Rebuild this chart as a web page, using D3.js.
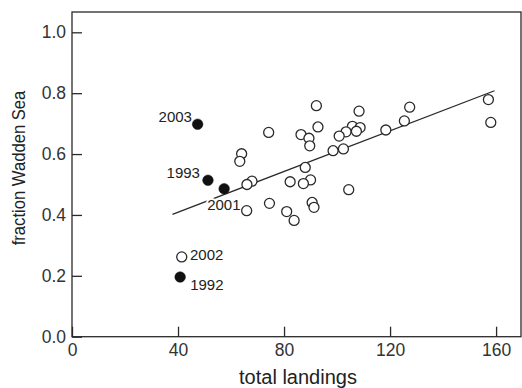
<!DOCTYPE html>
<html><head><meta charset="utf-8">
<script src="https://cdn.jsdelivr.net/npm/d3@7"></script>
<style>
html,body{margin:0;padding:0;background:#fff;}
svg{display:block;}
text{font-family:"Liberation Sans",Arial,Helvetica,sans-serif;}
</style></head>
<body>
<svg id="chart" width="522" height="388"></svg>
<script>
// Data
const xTicks = [0, 40, 80, 120, 160];
const yTicks = [0.0, 0.2, 0.4, 0.6, 0.8, 1.0];
const openX = [92.2, 92.8, 74.2, 86.4, 89.4, 89.7, 98.5, 64.0, 63.3, 88.0, 67.9, 66.0, 82.3, 90.0, 87.3, 65.9, 74.5, 81.0, 83.8, 90.6, 91.3, 108.3, 105.8, 108.7, 103.4, 107.3, 100.8, 102.4, 118.4, 125.4, 127.4, 157.1, 158.0, 104.4, 41.4];
const openY = [0.759, 0.689, 0.671, 0.664, 0.652, 0.627, 0.611, 0.601, 0.576, 0.556, 0.511, 0.500, 0.509, 0.515, 0.503, 0.414, 0.438, 0.411, 0.382, 0.441, 0.425, 0.741, 0.691, 0.687, 0.673, 0.675, 0.659, 0.617, 0.679, 0.709, 0.754, 0.779, 0.704, 0.483, 0.262];
const filledX = [40.8, 51.3, 57.4, 47.4];
const filledY = [0.196, 0.514, 0.486, 0.698];
const fitX = [37.9, 159.4];
const fitY = [0.402, 0.808];
const labelYears = ["1992", "1993", "2001", "2003", "2002"];
const labelX = [40.8, 51.3, 57.4, 47.4, 41.4];
const labelY = [0.196, 0.514, 0.486, 0.698, 0.262];
// label placement (pixels relative to point)
const labelDx = [10, -8, -17, -5.7, 8.3];
const labelDy = [13, -2.3, 21, -2.6, 3];
const labelAnchor = ["start", "end", "start", "end", "start"];

const svg = d3.select("#chart");
const L = 72, T = 12, R = 521, B = 336.7;
const x = d3.scaleLinear().domain([0, 169.4]).range([L, R]);
const y = d3.scaleLinear().domain([0, 1.0667]).range([B, T]);
const ink = "#2a2a2a";

// frame
svg.append("rect").attr("x", L).attr("y", T).attr("width", R - L).attr("height", B - T)
  .attr("fill", "none").attr("stroke", ink).attr("stroke-width", 1.3);

const xAxis = svg.append("g").attr("transform", `translate(0,${B})`)
  .call(d3.axisBottom(x).tickValues(xTicks).tickFormat(d3.format("d")).tickSizeInner(-10).tickSizeOuter(0).tickPadding(7));
const yAxis = svg.append("g").attr("transform", `translate(${L},0)`)
  .call(d3.axisLeft(y).tickValues(yTicks).tickFormat(d3.format(".1f")).tickSizeInner(-10).tickSizeOuter(0).tickPadding(6));
[xAxis, yAxis].forEach(g => {
  g.select(".domain").remove();
  g.selectAll(".tick line").attr("stroke", ink).attr("stroke-width", 1.3);
  g.selectAll(".tick text").attr("fill", "#333").style("font-size", "17.5px")
    .style("font-family", '"Liberation Sans",Arial,sans-serif');
});

// axis titles
svg.append("text").attr("x", 298).attr("y", 384).attr("text-anchor", "middle")
  .attr("fill", "#222").style("font-size", "20px").text("total landings");
svg.append("text").attr("transform", "translate(24.5,168) rotate(-90) scale(0.9,1)").attr("text-anchor", "middle")
  .attr("fill", "#222").style("font-size", "18.5px").text("fraction Wadden Sea");

// fit line
svg.append("line")
  .attr("x1", x(fitX[0])).attr("y1", y(fitY[0]))
  .attr("x2", x(fitX[1])).attr("y2", y(fitY[1]))
  .attr("stroke", ink).attr("stroke-width", 1.3);

// labels with white halo
labelYears.forEach((t, i) => {
  svg.append("text")
    .attr("x", x(labelX[i]) + labelDx[i]).attr("y", y(labelY[i]) + labelDy[i])
    .attr("text-anchor", labelAnchor[i])
    .attr("fill", "#222").attr("stroke", "#fff").attr("stroke-width", 4)
    .attr("paint-order", "stroke").style("font-size", "15px").text(t);
});

// open circles
svg.append("g").selectAll("circle").data(openX).join("circle")
  .attr("cx", (d) => x(d)).attr("cy", (d, i) => y(openY[i])).attr("r", 5)
  .attr("fill", "#fff").attr("stroke", ink).attr("stroke-width", 1.3);
// filled circles
svg.append("g").selectAll("circle").data(filledX).join("circle")
  .attr("cx", (d) => x(d)).attr("cy", (d, i) => y(filledY[i])).attr("r", 5.3)
  .attr("fill", "#111").attr("stroke", "#111").attr("stroke-width", 0.5);
</script>
</body></html>
